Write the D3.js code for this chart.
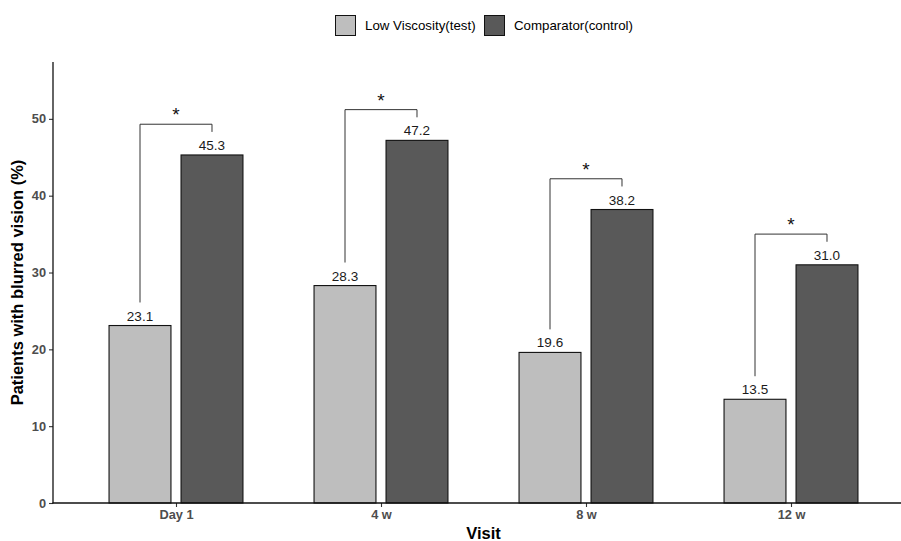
<!DOCTYPE html>
<html>
<head>
<meta charset="utf-8">
<script src="https://cdn.jsdelivr.net/npm/d3@7"></script>
<style>
  body { margin: 0; background: #fff; }
  svg { display: block; font-family: "Liberation Sans", Arial, sans-serif; }
</style>
</head>
<body>
<svg id="chart" width="901" height="541"></svg>
<script>
const visits = ["Day 1", "4 w", "8 w", "12 w"];
const seriesNames = ["Low Viscosity(test)", "Comparator(control)"];
const lowValues = [23.1, 28.3, 19.6, 13.5];
const compValues = [45.3, 47.2, 38.2, 31.0];
const sigLabels = ["*", "*", "*", "*"];
const yTicks = [0, 10, 20, 30, 40, 50];
const colors = ["#BEBEBE", "#595959"];

const svg = d3.select("#chart");
const W = 901, H = 541;
const panel = { left: 53, right: 914, top: 62, bottom: 503 };

const x = d3.scalePoint().domain(visits).range([panel.left, panel.right]).padding(0.6);
const step = x.step();
const y = d3.scaleLinear().domain([0, 57.4]).range([panel.bottom, panel.top]);

const barW = step * 0.302;
const offset = step * 0.1756;

const data = [];
visits.forEach((v, i) => {
  data.push({ visit: v, s: 0, value: lowValues[i] });
  data.push({ visit: v, s: 1, value: compValues[i] });
});
const bx = d => x(d.visit) + (d.s === 0 ? -offset : offset);

const g = svg.append("g");

// bars
g.selectAll("rect.bar").data(data).enter().append("rect")
  .attr("class", "bar")
  .attr("x", d => bx(d) - barW / 2)
  .attr("y", d => y(d.value))
  .attr("width", barW)
  .attr("height", d => y(0) - y(d.value))
  .attr("fill", d => colors[d.s])
  .attr("stroke", "#111")
  .attr("stroke-width", 1.1);

// value labels
g.selectAll("text.val").data(data).enter().append("text")
  .attr("class", "val")
  .attr("x", d => bx(d))
  .attr("y", d => y(d.value) - 5)
  .attr("text-anchor", "middle")
  .attr("font-size", 13.5)
  .attr("fill", "#1a1a1a")
  .text(d => d.value.toFixed(1));

// significance brackets
visits.forEach((v, i) => {
  const lo = lowValues[i], hi = compValues[i];
  const top = Math.max(lo, hi) + 4;
  const x1 = x(v) - offset, x2 = x(v) + offset;
  g.append("path")
    .attr("d", `M${x1},${y(lo + 3)} L${x1},${y(top)} L${x2},${y(top)} L${x2},${y(hi + 3)}`)
    .attr("fill", "none")
    .attr("stroke", "#333")
    .attr("stroke-width", 1);
  g.append("text")
    .attr("x", x(v))
    .attr("y", y(top) - 3)
    .attr("text-anchor", "middle")
    .attr("font-size", 19)
    .attr("fill", "#111")
    .text(sigLabels[i]);
});

// axes
const yAxis = d3.axisLeft(y).tickValues(yTicks).tickSize(4).tickPadding(3).tickFormat(d3.format("d"));
const yg = svg.append("g").attr("transform", `translate(${panel.left},0)`).call(yAxis);
yg.select(".domain").remove();
yg.selectAll(".tick line").attr("stroke", "#333").attr("stroke-width", 1.1);
yg.selectAll(".tick text").attr("font-size", 12.8).attr("font-weight", "bold").attr("fill", "#4D4D4D")
  .attr("font-family", "Liberation Sans, Arial, sans-serif");

const xAxis = d3.axisBottom(x).tickSize(4).tickPadding(3);
const xg = svg.append("g").attr("transform", `translate(0,${panel.bottom})`).call(xAxis);
xg.select(".domain").remove();
xg.selectAll(".tick line").attr("stroke", "#333").attr("stroke-width", 1.1);
xg.selectAll(".tick text").attr("font-size", 12.8).attr("font-weight", "bold").attr("fill", "#4D4D4D")
  .attr("font-family", "Liberation Sans, Arial, sans-serif");

svg.append("line").attr("x1", panel.left).attr("x2", panel.left)
  .attr("y1", panel.top).attr("y2", panel.bottom + 0.5)
  .attr("stroke", "#111").attr("stroke-width", 1.3);
svg.append("line").attr("x1", panel.left - 0.5).attr("x2", W)
  .attr("y1", panel.bottom).attr("y2", panel.bottom)
  .attr("stroke", "#111").attr("stroke-width", 1.3);

// axis titles
svg.append("text")
  .attr("x", x("4 w") + (x("8 w") - x("4 w")) / 2)
  .attr("y", 539)
  .attr("text-anchor", "middle")
  .attr("font-size", 16.5).attr("font-weight", "bold").attr("fill", "#000")
  .text("Visit");
svg.append("text")
  .attr("transform", `translate(23,${(panel.top + panel.bottom) / 2}) rotate(-90)`)
  .attr("text-anchor", "middle")
  .attr("font-size", 16.5).attr("font-weight", "bold").attr("fill", "#000")
  .text("Patients with blurred vision (%)");

// legend
const legendItems = [
  { name: seriesNames[0], color: colors[0], x: 335 },
  { name: seriesNames[1], color: colors[1], x: 484 }
];
const lg = svg.append("g");
legendItems.forEach(it => {
  lg.append("rect").attr("x", it.x + 0.5).attr("y", 15.5).attr("width", 20).attr("height", 20)
    .attr("fill", it.color).attr("stroke", "#111").attr("stroke-width", 1);
  lg.append("text").attr("x", it.x + 30).attr("y", 30)
    .attr("font-size", 13.3).attr("fill", "#000").text(it.name);
});
</script>
</body>
</html>
